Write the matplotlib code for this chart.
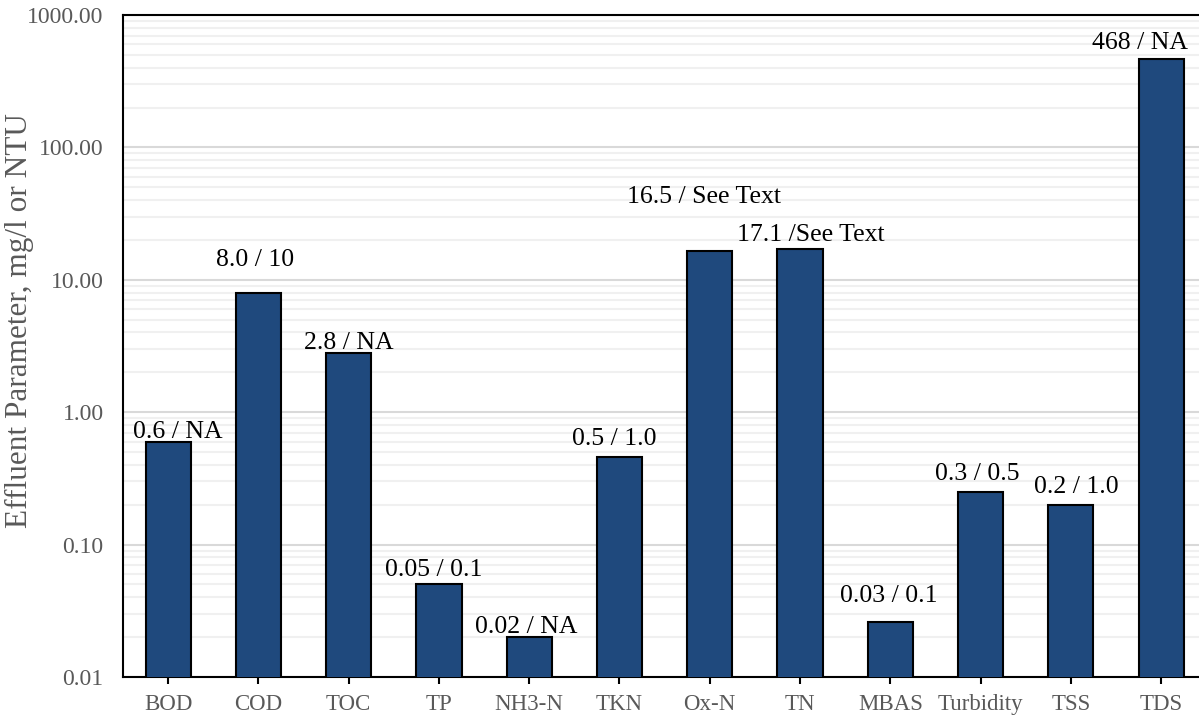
import matplotlib
matplotlib.use("Agg")
import matplotlib.pyplot as plt
from matplotlib.ticker import LogLocator, FixedLocator, FormatStrFormatter, NullFormatter

# effluent quality: measured value / permit limit
params = ['BOD', 'COD', 'TOC', 'TP', 'NH3-N', 'TKN', 'Ox-N', 'TN', 'MBAS',
          'Turbidity', 'TSS', 'TDS']
values = [0.6, 8.0, 2.8, 0.05, 0.02, 0.46, 16.6, 17.1, 0.026, 0.25, 0.2, 468]
labels = ['0.6 / NA', '8.0 / 10', '2.8 / NA', '0.05 / 0.1', '0.02 / NA',
          '0.5 / 1.0', '16.5 / See Text', '17.1 /See Text', '0.03 / 0.1',
          '0.3 / 0.5', '0.2 / 1.0', '468 / NA']
yticks = [0.01, 0.1, 1, 10, 100, 1000]

# label placement relative to bar top (pixels)
label_dx = [10, -3, 0, -5, -3, -5, -6, 11, -2, -3, 5, -21]
label_dy = [-1, 22, -1, 3, -1, 7, 43, 3, 15, 7, 7, 5]

plt.rcParams['font.family'] = ['Liberation Serif', 'DejaVu Serif']

fig = plt.figure(figsize=(11.99, 7.17), dpi=100)
ax = fig.add_axes([123 / 1199, 40 / 717, 1076 / 1199, 662 / 717])

x = list(range(len(params)))
ax.bar(x, values, width=0.5, color='#1f497d', edgecolor='black',
       linewidth=1.5, zorder=3)

for i, (v, t) in enumerate(zip(values, labels)):
    ax.annotate(t, (i, v), xytext=(label_dx[i], label_dy[i]),
                textcoords='offset pixels', ha='center', va='bottom',
                fontsize=18.5, color='black', zorder=4)

ax.set_yscale('log')
ax.set_ylim(0.01, 1000)
ax.set_xlim(-0.5, 11.42)
ax.yaxis.set_major_locator(FixedLocator(yticks))
ax.yaxis.set_major_formatter(FormatStrFormatter('%.2f'))
ax.yaxis.set_minor_locator(LogLocator(base=10, subs=range(2, 10)))
ax.yaxis.set_minor_formatter(NullFormatter())
ax.grid(which='major', axis='y', color='#d9d9d9', linewidth=1.5, zorder=0)
ax.grid(which='minor', axis='y', color='#f0f0f0', linewidth=1.5, zorder=0)

ax.set_xticks(x)
ax.set_xticklabels(params)
ax.tick_params(axis='x', length=5, width=1.5, colors='black',
               labelcolor='#595959', labelsize=16.5, pad=7)
ax.tick_params(axis='y', which='both', length=0, labelcolor='#595959',
               labelsize=17, pad=14)

ax.set_ylabel('Effluent Parameter, mg/l or NTU', fontsize=22.5,
              color='#595959')
ax.yaxis.set_label_coords(-0.083, 0.538)

for side in ['left', 'bottom', 'top']:
    ax.spines[side].set_linewidth(1.5)
    ax.spines[side].set_color('black')
ax.spines['right'].set_visible(False)

fig.savefig('out.png', dpi=100)
